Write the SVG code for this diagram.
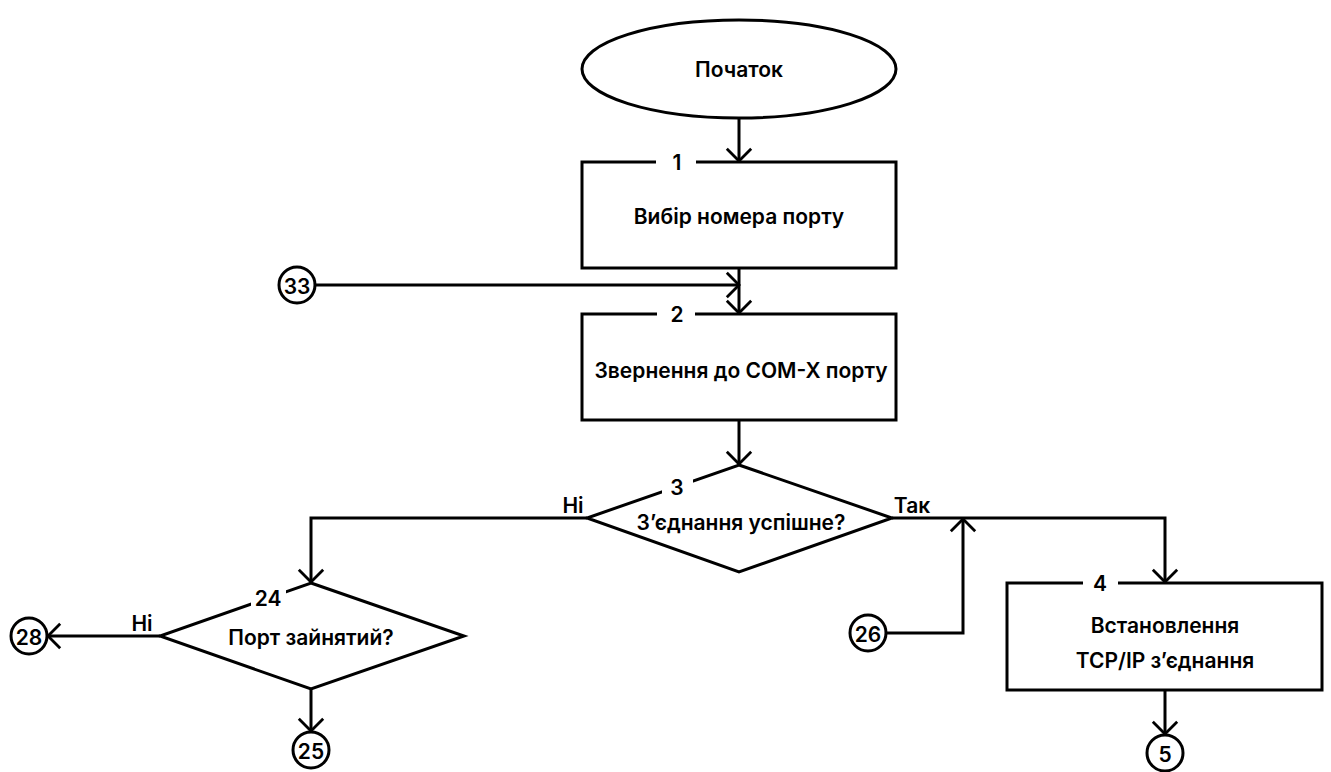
<svg xmlns="http://www.w3.org/2000/svg" width="1331" height="772" viewBox="0 0 1331 772">
  <style>
    .shape { fill: #ffffff; stroke: #000000; stroke-width: 3; }
    .line { fill: none; stroke: #000000; stroke-width: 3; }
    .gap { fill: #ffffff; stroke: none; }
    .txt { font-family: Inter, "Noto Sans", "DejaVu Sans", sans-serif; font-weight: 600; font-size: 21px; fill: #000000; text-anchor: middle; dominant-baseline: central; }
  </style>
  <defs>
    <marker id="arrow" markerUnits="userSpaceOnUse" markerWidth="30" markerHeight="30" refX="0" refY="0" viewBox="-16 -16 20 32" orient="auto" overflow="visible">
      <path d="M-13,-13 L0,0 L-13,13" fill="none" stroke="#000000" stroke-width="3"/>
    </marker>
  </defs>
  <rect width="1331" height="772" fill="#ffffff"/>

  <!-- connectors -->
  <g id="connectors">
    <line class="line" x1="739" y1="118" x2="739" y2="161" marker-end="url(#arrow)"/>
    <line class="line" x1="739" y1="268" x2="739" y2="313" marker-end="url(#arrow)"/>
    <line class="line" x1="316" y1="285" x2="739" y2="285" marker-end="url(#arrow)"/>
    <line class="line" x1="739" y1="420" x2="739" y2="464" marker-end="url(#arrow)"/>
    <polyline class="line" points="587,518 311,518 311,582" marker-end="url(#arrow)"/>
    <polyline class="line" points="892,518 1165,518 1165,582" marker-end="url(#arrow)"/>
    <polyline class="line" points="886,633 963,633 963,519" marker-end="url(#arrow)"/>
    <line class="line" x1="160" y1="636" x2="48" y2="636" marker-end="url(#arrow)"/>
    <line class="line" x1="311" y1="689" x2="311" y2="731" marker-end="url(#arrow)"/>
    <line class="line" x1="1165" y1="690" x2="1165" y2="734" marker-end="url(#arrow)"/>
    <text class="txt" x="573" y="505">Ні</text>
    <text class="txt" x="912" y="505">Так</text>
    <text class="txt" x="142" y="623">Ні</text>
  </g>

  <!-- start -->
  <g id="start">
    <ellipse class="shape" cx="739" cy="69" rx="157" ry="49"/>
    <text class="txt" x="739" y="69">Початок</text>
  </g>

  <!-- block 1 -->
  <g id="block1">
    <rect class="shape" x="582" y="162" width="314" height="106"/>
    <rect class="gap" x="656" y="158" width="40" height="8"/>
    <text class="txt" x="677" y="162">1</text>
    <text class="txt" x="739" y="216">Вибір номера порту</text>
  </g>

  <!-- block 2 -->
  <g id="block2">
    <rect class="shape" x="582" y="314" width="314" height="106"/>
    <rect class="gap" x="657" y="310" width="38" height="8"/>
    <text class="txt" x="677" y="314">2</text>
    <text class="txt" x="741" y="370">Звернення до COM-X порту</text>
  </g>

  <!-- decision 3 -->
  <g id="decision3">
    <polygon class="shape" points="739,465 892,518 739,572 587,518"/>
    <rect class="gap" x="662" y="476" width="31" height="22"/>
    <text class="txt" x="677" y="487">3</text>
    <text class="txt" x="741" y="522">З’єднання успішне?</text>
  </g>

  <!-- decision 24 -->
  <g id="decision24">
    <polygon class="shape" points="311,583 464,636 311,689 160,636"/>
    <rect class="gap" x="251" y="588" width="35" height="20"/>
    <text class="txt" x="268" y="598">24</text>
    <text class="txt" x="311" y="637">Порт зайнятий?</text>
  </g>

  <!-- block 4 -->
  <g id="block4">
    <rect class="shape" x="1007" y="583" width="315" height="107"/>
    <rect class="gap" x="1083" y="579" width="35" height="8"/>
    <text class="txt" x="1100" y="583">4</text>
    <text class="txt" x="1165" y="625">Встановлення</text>
    <text class="txt" x="1165" y="660">TCP/IP з’єднання</text>
  </g>

  <!-- off-page connectors -->
  <g id="conn33">
    <circle class="shape" cx="297" cy="285" r="18"/>
    <text class="txt" x="297" y="286">33</text>
  </g>
  <g id="conn28">
    <circle class="shape" cx="29" cy="636" r="18"/>
    <text class="txt" x="29" y="637">28</text>
  </g>
  <g id="conn25">
    <circle class="shape" cx="311" cy="750" r="18"/>
    <text class="txt" x="311" y="751">25</text>
  </g>
  <g id="conn26">
    <circle class="shape" cx="868" cy="633" r="18"/>
    <text class="txt" x="868" y="634">26</text>
  </g>
  <g id="conn5">
    <circle class="shape" cx="1165" cy="753" r="18"/>
    <text class="txt" x="1165" y="754">5</text>
  </g>
</svg>
